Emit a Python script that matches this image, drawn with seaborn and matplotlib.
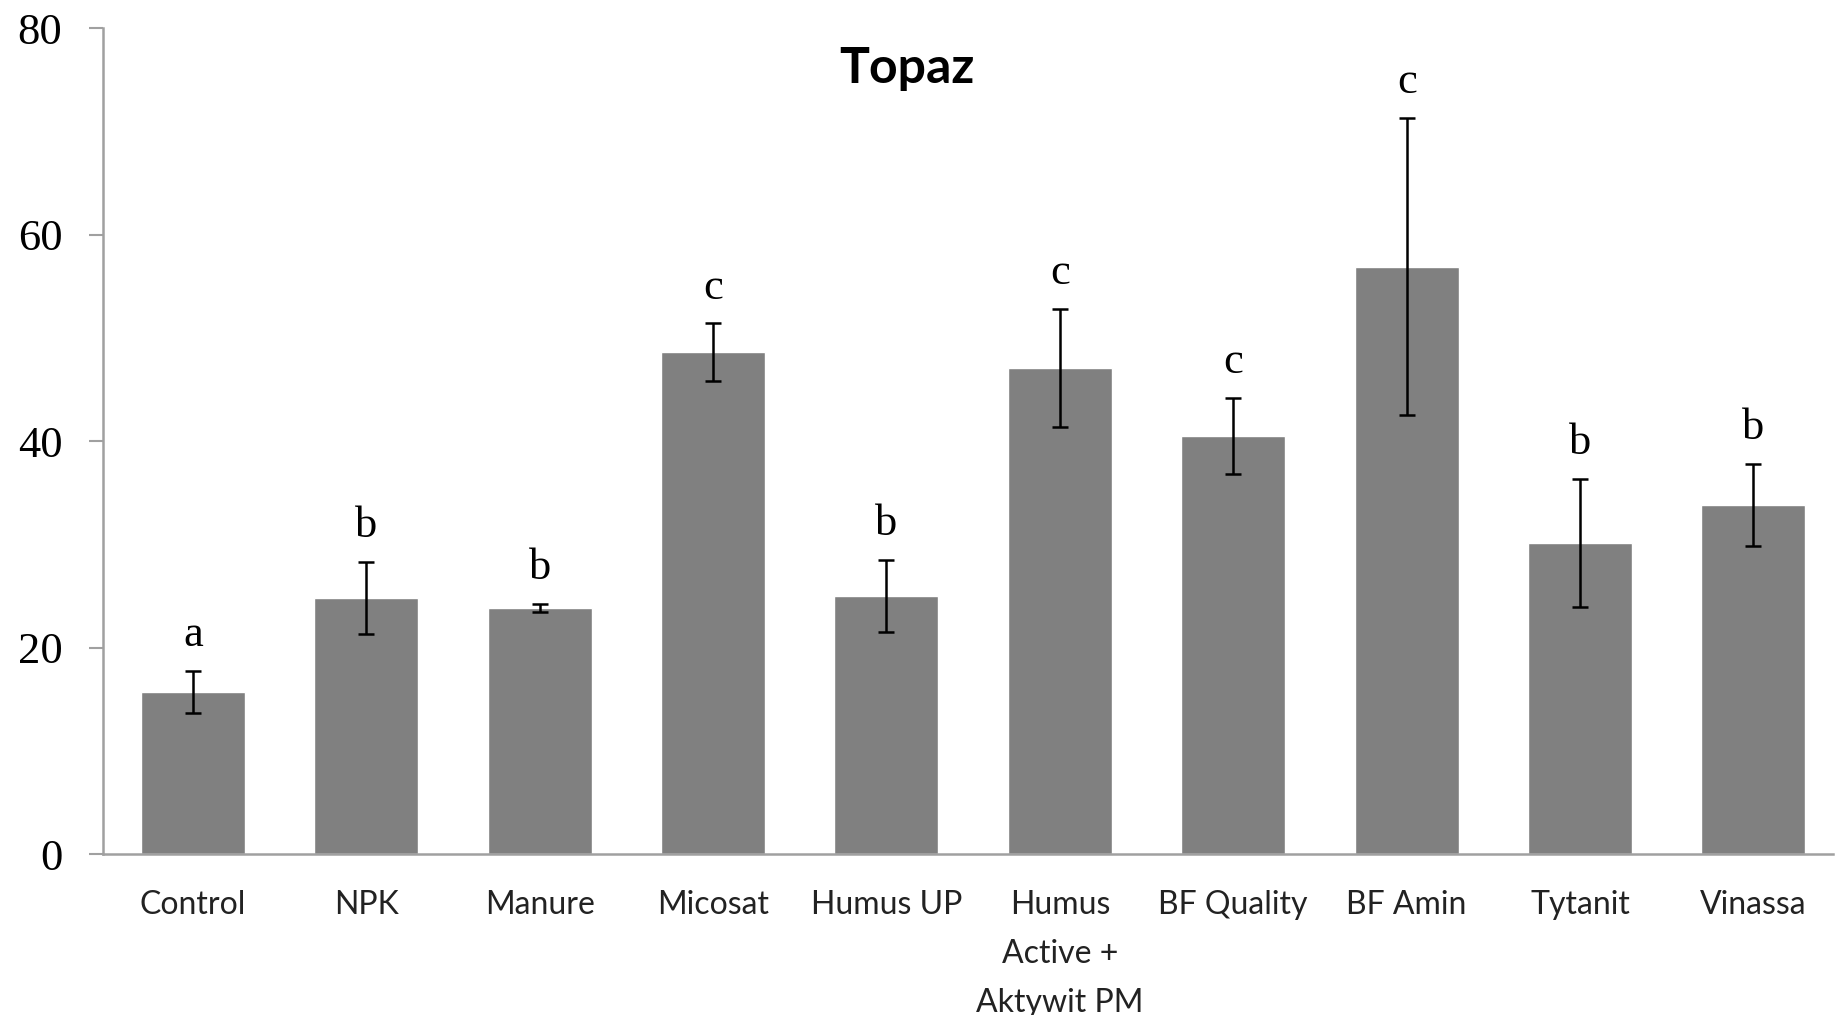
import matplotlib
matplotlib.use('Agg')
import matplotlib.pyplot as plt
import seaborn as sns
import numpy as np

# ======================
# DATA
# ======================
treatments = ['Control', 'NPK', 'Manure', 'Micosat', 'Humus UP',
              'Humus\nActive +\nAktywit PM', 'BF Quality', 'BF Amin',
              'Tytanit', 'Vinassa']
means = [15.7, 24.8, 23.8, 48.6, 25.0, 47.1, 40.5, 56.9, 30.1, 33.8]
errors = [2.0, 3.5, 0.4, 2.8, 3.5, 5.7, 3.7, 14.4, 6.2, 4.0]
groups = ['a', 'b', 'b', 'c', 'b', 'c', 'c', 'c', 'b', 'b']
y_ticks = [0, 20, 40, 60, 80]

# ======================
# PLOT
# ======================
sns.set_style('white')
fig = plt.figure(figsize=(18.35, 10.15), dpi=100)
ax = fig.add_axes([0.056, 0.1586, 0.943, 0.8138])

sns.barplot(x=treatments, y=means, color='#808080', saturation=1,
            width=0.6, errorbar=None, ax=ax)
ax.errorbar(np.arange(len(means)), means, yerr=errors, fmt='none',
            ecolor='black', elinewidth=1.8, capsize=6, capthick=1.8)

# significance letters
for i, (m, e, g) in enumerate(zip(means, errors, groups)):
    ax.text(i, m + e + 2.4, g, ha='center', va='baseline',
            family='Liberation Serif', fontsize=32, color='black')

ax.set_ylim(0, 80)
ax.set_xlim(-0.52, 9.46)
ax.set_yticks(y_ticks)
ax.set_yticklabels([str(t) for t in y_ticks], family='Liberation Serif',
                   fontsize=32, color='black')
ax.set_xticks(range(len(treatments)))
ax.set_xticklabels(treatments, family='Lato', fontsize=23, color='#222222',
                   linespacing=1.78, va='top')

ax.tick_params(axis='y', direction='out', length=10, width=1.5,
               color='#a0a0a0', pad=19, left=True)
ax.tick_params(axis='x', length=0, pad=26)

for side in ['top', 'right']:
    ax.spines[side].set_visible(False)
for side in ['left', 'bottom']:
    ax.spines[side].set_color('#a0a0a0')
    ax.spines[side].set_linewidth(1.8)

ax.text(0.465, 0.978, 'Topaz', transform=ax.transAxes, ha='center', va='top',
        family='Lato', fontweight='bold', fontsize=36, color='black')

ax.set_xlabel('')
ax.set_ylabel('')

plt.savefig('out.png', dpi=100)
plt.close()
